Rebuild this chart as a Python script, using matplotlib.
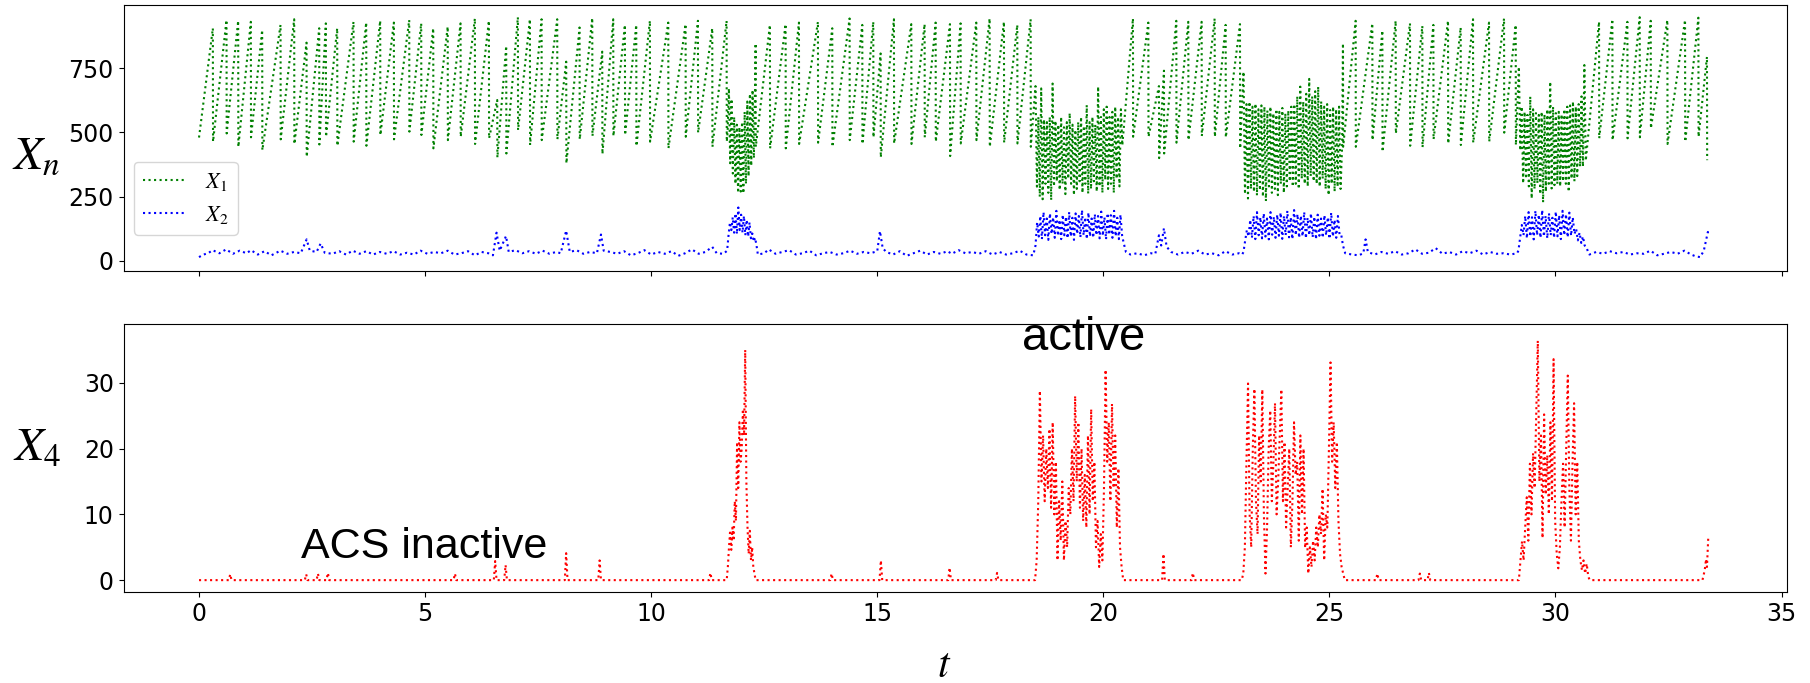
import numpy as np
import matplotlib
matplotlib.use("Agg")
import matplotlib.pyplot as plt

plt.rcParams["mathtext.fontset"] = "stix"

# ---------------- data ----------------
# X1 (green): start value, then sawtooth teeth: (time of peak, peak value, value right after the drop)
x1_start = (0.0, 480)
x1_teeth = [
    (0.306, 905, 464), (0.608, 937, 496), (0.866, 934, 444), (1.146, 930, 481),
    (1.397, 898, 431), (1.803, 918, 473), (2.105, 940, 455), (2.378, 849, 405),
    (2.658, 905, 453), (2.805, 924, 483), (3.056, 905, 448), (3.417, 930, 464),
    (3.698, 927, 448), (4.007, 934, 490), (4.309, 927, 473), (4.649, 937, 503),
    (4.914, 924, 490), (5.180, 905, 438), (5.500, 911, 470), (5.784, 924, 483),
    (6.101, 943, 455), (6.411, 934, 477), (6.595, 626, 402), (6.794, 836, 418),
    (7.052, 948, 509), (7.318, 940, 451), (7.576, 940, 470), (7.922, 940, 473),
    (8.121, 775, 380), (8.416, 908, 473), (8.697, 945, 486), (8.918, 814, 416),
    (9.161, 940, 486), (9.419, 918, 490), (9.670, 918, 447), (9.972, 934, 464),
    (10.378, 927, 438), (10.761, 921, 483), (11.034, 934, 499), (11.351, 905, 444),
    (11.668, 934, 464),
    (12.310, 846, 444), (12.626, 918, 438), (12.973, 921, 438), (13.268, 927, 455),
    (13.688, 930, 460), (14.005, 905, 444), (14.388, 943, 470), (14.669, 918, 455),
    (14.912, 930, 481), (15.074, 807, 403), (15.369, 940, 457), (15.753, 921, 455),
    (16.047, 921, 481), (16.291, 927, 464), (16.608, 921, 408), (16.843, 924, 457),
    (17.190, 927, 470), (17.485, 943, 444), (17.802, 930, 460), (18.097, 918, 457),
    (18.392, 940, 444),
    (20.655, 943, 483), (20.995, 927, 483), (21.230, 680, 400), (21.341, 740, 418),
    (21.614, 934, 460), (21.879, 930, 470), (22.174, 930, 486), (22.462, 943, 483),
    (22.705, 918, 481), (23.022, 921, 438),
    (25.300, 846, 444), (25.580, 934, 444), (25.949, 924, 470), (26.171, 896, 425),
    (26.465, 934, 496), (26.782, 924, 448), (27.055, 914, 442), (27.299, 918, 473),
    (27.623, 934, 457), (27.903, 908, 451), (28.176, 940, 460), (28.530, 927, 464),
    (28.862, 943, 499), (29.120, 918, 451),
    (30.963, 930, 477), (31.258, 940, 470), (31.590, 930, 477), (31.862, 948, 481),
    (32.106, 934, 516), (32.474, 937, 455), (32.865, 937, 464), (33.160, 946, 483),
    (33.350, 794, 392),
]

# active (ACS on) windows
burst_x1_windows = [(11.69, 12.30), (18.50, 20.42), (23.10, 25.28), (29.19, 30.67)]
x1_burst1 = [500, 671, 380, 630, 340, 560, 300, 530, 265, 520, 270, 540, 263, 580,
             300, 620, 330, 650, 370, 665, 400, 700]
x1_burst2 = [680, 289, 560, 250, 671, 240, 550, 300, 540, 265, 560, 237, 690, 290,
             545, 310, 530, 276, 560, 300, 520, 260, 540, 320, 575, 300, 530, 256,
             510, 280, 540, 310, 560, 265, 525, 300, 606, 262, 540, 280, 560, 310,
             530, 270, 678, 290, 560, 265, 590, 315, 600, 280, 560, 300, 580, 265,
             600, 320, 560, 290, 590, 450]
x1_burst3 = [736, 260, 610, 243, 619, 280, 600, 269, 612, 255, 590, 275, 605, 250,
             600, 233, 585, 290, 600, 265, 574, 280, 590, 256, 580, 300, 595, 265,
             574, 290, 585, 310, 600, 289, 610, 300, 640, 280, 678, 320, 620, 300,
             650, 290, 708, 330, 640, 310, 660, 300, 678, 289, 620, 320, 600, 280,
             610, 256, 587, 300, 600, 270, 590, 289, 600, 280, 444]
x1_burst4 = [755, 430, 600, 302, 580, 320, 568, 290, 639, 243, 590, 280, 575, 302,
             568, 260, 580, 228, 570, 270, 590, 300, 697, 282, 600, 295, 575, 300,
             580, 290, 570, 310, 590, 300, 600, 269, 605, 320, 620, 310, 600, 330,
             610, 367, 640, 367, 762, 390]

# X2 (blue): quiet stretches as (time, value)
x2_quiet = [
    (0.0, 15), (0.1, 25), (0.2, 30), (0.3, 42), (0.45, 30), (0.6, 45), (0.75, 28),
    (0.9, 40), (1.05, 30), (1.15, 42), (1.3, 25), (1.45, 38), (1.6, 22), (1.8, 40),
    (1.95, 28), (2.1, 35), (2.25, 30), (2.38, 84), (2.45, 40), (2.6, 35), (2.69, 68),
    (2.78, 32), (2.95, 28), (3.1, 38), (3.25, 25), (3.4, 40), (3.55, 28), (3.7, 38),
    (3.85, 25), (4.0, 35), (4.15, 28), (4.3, 38), (4.45, 25), (4.6, 32), (4.75, 25),
    (4.9, 40), (5.05, 28), (5.2, 35), (5.35, 30), (5.5, 40), (5.65, 25), (5.8, 30),
    (5.95, 38), (6.1, 22), (6.25, 35), (6.4, 30), (6.5, 22), (6.58, 110), (6.65, 40),
    (6.79, 97), (6.85, 35), (7.0, 42), (7.15, 30), (7.3, 38), (7.45, 28), (7.6, 40),
    (7.75, 28), (7.9, 35), (8.0, 30), (8.12, 118), (8.2, 35), (8.35, 42), (8.5, 28),
    (8.65, 35), (8.8, 30), (8.89, 103), (8.95, 40), (9.1, 35), (9.25, 28), (9.4, 38),
    (9.55, 22), (9.7, 30), (9.85, 42), (10.0, 25), (10.15, 35), (10.3, 28), (10.45, 38),
    (10.6, 20), (10.75, 30), (10.9, 45), (11.05, 28), (11.2, 35), (11.35, 55),
    (11.45, 30), (11.6, 28),
    (12.36, 25), (12.5, 30), (12.6, 45), (12.75, 28), (12.9, 35), (13.05, 42),
    (13.2, 25), (13.35, 30), (13.5, 40), (13.65, 22), (13.8, 30), (13.95, 35),
    (14.1, 25), (14.25, 30), (14.4, 40), (14.55, 28), (14.7, 35), (14.85, 30),
    (15.0, 38), (15.06, 116), (15.12, 50), (15.2, 35), (15.35, 25), (15.5, 38),
    (15.65, 20), (15.8, 30), (15.95, 40), (16.1, 25), (16.25, 35), (16.4, 28),
    (16.55, 38), (16.65, 28), (16.8, 42), (16.95, 30), (17.1, 35), (17.25, 28),
    (17.4, 38), (17.55, 25), (17.7, 35), (17.85, 25), (18.0, 30), (18.15, 40),
    (18.3, 25), (18.45, 22),
    (20.5, 35), (20.6, 25), (20.75, 30), (20.9, 22), (21.05, 30), (21.15, 28),
    (21.23, 100), (21.28, 60), (21.34, 127), (21.4, 55), (21.5, 35), (21.65, 25),
    (21.8, 35), (21.95, 28), (22.1, 40), (22.25, 25), (22.4, 30), (22.55, 22),
    (22.7, 38), (22.85, 25), (23.0, 30), (23.07, 25),
    (25.35, 30), (25.5, 25), (25.65, 22), (25.75, 30), (25.8, 84), (25.85, 35),
    (26.0, 25), (26.15, 35), (26.3, 28), (26.45, 38), (26.6, 25), (26.75, 30),
    (26.9, 45), (27.05, 28), (27.2, 32), (27.35, 50), (27.5, 28), (27.65, 35),
    (27.8, 25), (27.95, 38), (28.1, 30), (28.25, 40), (28.4, 25), (28.55, 35),
    (28.7, 28), (28.85, 30), (29.0, 25), (29.15, 30),
    (30.75, 25), (30.9, 35), (31.05, 28), (31.2, 38), (31.35, 30), (31.5, 35),
    (31.65, 25), (31.8, 30), (31.95, 28), (32.1, 40), (32.25, 22), (32.4, 28),
    (32.55, 35), (32.7, 28), (32.85, 40), (33.0, 25), (33.1, 18), (33.2, 15),
    (33.28, 40), (33.33, 80), (33.37, 113), (33.4, 100),
]
burst_x2_windows = [(11.68, 12.33), (18.50, 20.45), (23.10, 25.30), (29.18, 30.72)]
x2_burst1 = [40, 100, 150, 120, 170, 110, 185, 105, 208, 120, 180, 110, 175, 100,
             160, 95, 150, 88, 107, 75, 90, 60]
x2_burst2 = [60, 150, 95, 175, 85, 190, 100, 165, 82, 185, 105, 170, 90, 195, 98,
             160, 85, 180, 100, 172, 88, 190, 95, 168, 82, 185, 105, 175, 92, 198,
             100, 170, 85, 188, 95, 165, 90, 182, 100, 175, 88, 192, 98, 170, 84,
             186, 102, 178, 90, 195, 96, 168, 85, 180, 100, 70]
x2_burst3 = [35, 80, 120, 95, 160, 90, 175, 85, 190, 100, 170, 88, 185, 95, 165, 84,
             190, 102, 172, 90, 180, 98, 188, 86, 175, 100, 195, 92, 170, 85, 198,
             100, 182, 90, 176, 96, 190, 88, 168, 100, 185, 92, 172, 84, 180, 98,
             165, 90, 178, 100, 170, 86, 188, 95, 160, 90, 175, 100, 101, 60]
x2_burst4 = [40, 90, 140, 100, 175, 88, 190, 95, 170, 84, 195, 100, 180, 90, 198, 95,
             175, 88, 185, 100, 168, 90, 192, 96, 178, 85, 195, 100, 182, 92, 188, 98,
             170, 105, 125, 80, 110, 70, 95, 60, 55, 35]

# X4 (red): zero except small spikes and the active bursts
x4_span = (0.0, 33.4)
x4_spikes = [(0.69, 0.9), (2.37, 0.9), (2.63, 1.0), (2.85, 1.1), (5.66, 1.0),
             (6.55, 2.9), (6.78, 2.3), (8.12, 4.1), (8.86, 3.0), (11.31, 1.1),
             (13.99, 1.0), (15.08, 3.0), (16.60, 1.9), (17.65, 1.1), (21.33, 4.0),
             (21.98, 1.1), (26.06, 1.0), (27.00, 1.0), (27.20, 1.1)]
burst_x4_windows = [(11.67, 12.31), (18.49, 20.44), (23.06, 25.34), (29.19, 30.76)]
x4_burst1 = [0, 2, 5, 7.6, 4.6, 8, 6, 12, 9, 21, 14, 24, 18, 20, 26, 22, 35, 15, 8,
             4, 7.5, 3, 5, 2, 1, 0]
x4_burst2 = [0, 3, 12, 28.8, 15, 22, 12, 20, 14, 23, 11, 24, 10, 18, 3, 12, 6, 15, 3,
             9, 5, 14, 10, 20, 12, 28, 15, 24, 11, 20, 9, 16, 8, 22, 10, 26, 12, 18,
             5, 9, 2, 7, 3, 14, 32, 18, 24, 12, 26.8, 14, 22, 8, 17, 5, 2, 0]
x4_burst3 = [0, 1, 5, 18, 29.9, 10, 5, 20, 29.1, 12, 7, 22, 15, 29, 10, 1, 8, 20,
             25.8, 12, 18, 26.9, 10, 15, 22, 29, 12, 21, 8, 14, 20, 5, 12, 24, 16,
             18, 6, 22, 10, 20, 4.9, 8, 1, 5, 2, 6, 3, 8, 5, 10, 7, 13.9, 3, 10, 8,
             20, 33.1, 18, 24, 14, 21, 9, 4, 2, 1, 0]
x4_burst4 = [0, 3, 5.9, 3, 8, 12.6, 6, 17.7, 10, 19.3, 14, 25.2, 36.4, 15, 22, 6.4,
             25.2, 13, 19, 10, 24, 12, 33.6, 9, 4, 1.8, 5, 12, 17.7, 8, 20, 31.1, 14,
             6, 17.7, 26.9, 10, 18, 6, 3, 1.5, 3, 1, 2.5, 0.5, 0]
x4_end = [(33.25, 0), (33.30, 1.5), (33.33, 3.2), (33.35, 2.0), (33.38, 6.7)]

xticks = [0, 5, 10, 15, 20, 25, 30, 35]
yticks_top = [0, 250, 500, 750]
yticks_bot = [0, 10, 20, 30]


# ---------------- assemble series ----------------
def add_bursts(pts, windows, bursts):
    for (a, b), vals in zip(windows, bursts):
        ts = np.linspace(a, b, len(vals))
        pts.extend(zip(ts, vals))


def finish(pts):
    pts = sorted(pts, key=lambda p: p[0])
    return np.array([p[0] for p in pts]), np.array([p[1] for p in pts])


p1 = [x1_start]
for t, pk, tr in x1_teeth:
    p1.append((t, pk))
    p1.append((t + 0.004, tr))
add_bursts(p1, burst_x1_windows, [x1_burst1, x1_burst2, x1_burst3, x1_burst4])
t1, v1 = finish(p1)

p2 = list(x2_quiet)
add_bursts(p2, burst_x2_windows, [x2_burst1, x2_burst2, x2_burst3, x2_burst4])
t2, v2 = finish(p2)

p4 = [(x4_span[0], 0.0)]
for t, v in x4_spikes:
    p4 += [(t - 0.03, 0.0), (t, v), (t + 0.03, 0.0)]
add_bursts(p4, burst_x4_windows, [x4_burst1, x4_burst2, x4_burst3, x4_burst4])
p4 += x4_end
t4, v4 = finish(p4)

# ---------------- figure ----------------
W, H = 1810, 683
fig = plt.figure(figsize=(W / 100, H / 100), dpi=100)
ax1 = fig.add_axes([123.5 / W, 1 - 271 / H, (1787 - 123.5) / W, (271 - 4.6) / H])
ax2 = fig.add_axes([123.5 / W, 1 - 592.3 / H, (1787 - 123.5) / W, (592.3 - 324.3) / H],
                   sharex=ax1)

lw = 1.5
l1, = ax1.plot(t1, v1, color="green", linestyle=":", linewidth=lw)
l2, = ax1.plot(t2, v2, color="blue", linestyle=":", linewidth=lw)
ax2.plot(t4, v4, color="red", linestyle=":", linewidth=lw)

ax1.set_xlim(-1.67, 35.12)
ax1.set_ylim(-39, 997)
ax2.set_ylim(-1.85, 38.9)
ax1.set_xticks(xticks)
ax1.set_yticks(yticks_top)
ax2.set_yticks(yticks_bot)
ax1.tick_params(labelbottom=False, labelsize=17)
ax2.tick_params(labelsize=17)

leg = ax1.legend([l1, l2], ["$X_1$", "$X_2$"], loc="upper left",
                 bbox_to_anchor=(0.0063, 0.41), borderaxespad=0, fontsize=16,
                 handlelength=2.0)

ax2.text(18.21, 35.0, "active", fontsize=34, family="Liberation Sans",
         ha="left", va="baseline", zorder=5)
ax2.text(2.25, 3.4, "ACS inactive", fontsize=31, family="Liberation Sans",
         ha="left", va="baseline", zorder=5)

fig.text(36 / W, 1 - 156 / H, "$X_n$", fontsize=34, ha="center", va="center")
fig.text(37 / W, 1 - 448 / H, "$X_4$", fontsize=34, ha="center", va="center")
fig.text(944 / W, 1 - 665 / H, "$t$", fontsize=30, ha="center", va="center")

fig.savefig("out.png", dpi=100)
